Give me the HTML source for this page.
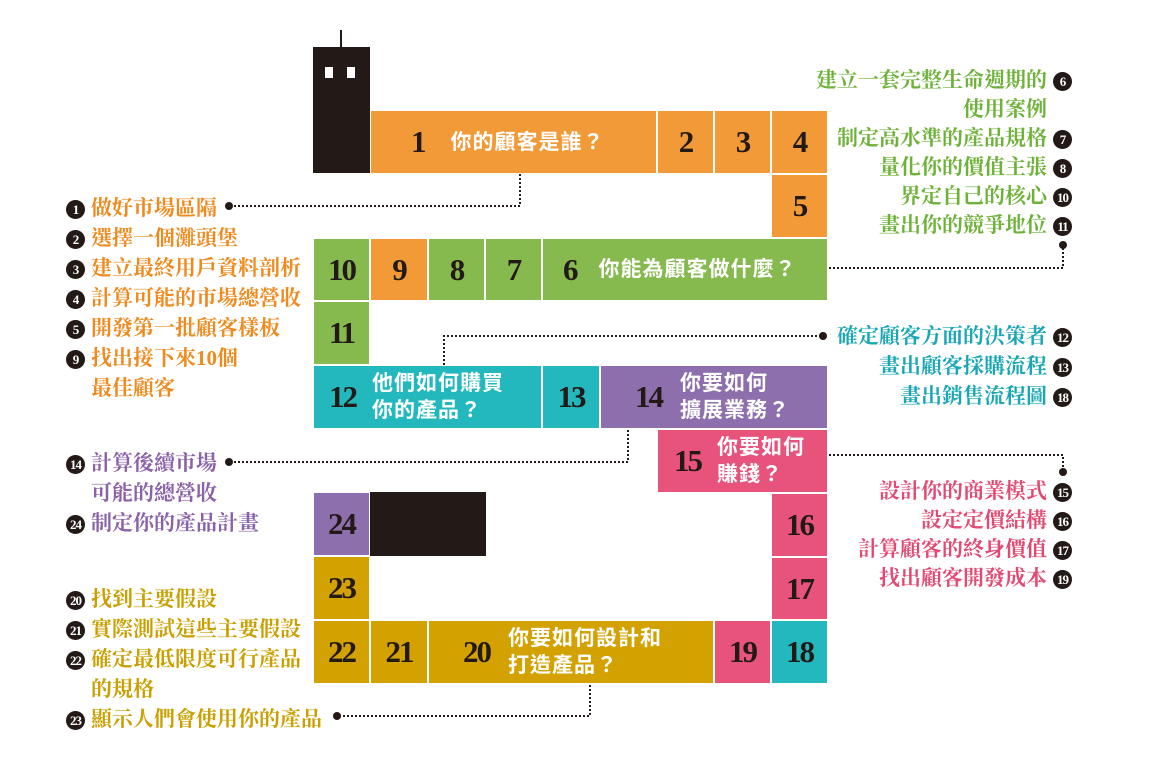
<!DOCTYPE html>
<html><head><meta charset="utf-8"><style>
*{margin:0;padding:0;box-sizing:border-box}
body{width:1152px;height:764px;background:#fff;position:relative;overflow:hidden}
.c{position:absolute;border:1px solid #fff;color:#231916;font-family:"Liberation Serif",serif;font-weight:bold;font-size:31px;display:flex;align-items:center;justify-content:center;letter-spacing:-2px}
.q{color:#fff;font-family:"Liberation Sans","Noto Sans CJK TC",sans-serif;font-weight:bold;font-size:21px;letter-spacing:1px;line-height:27px}
.o{background:#f29a38}.g{background:#86b94e}.t{background:#22b8bd}.p{background:#8e6fae}.k{background:#e7537a}.y{background:#d3a100}
.l{position:absolute;font-family:"Liberation Serif","Noto Serif CJK TC",serif;font-weight:bold;font-size:21px;line-height:24px;white-space:nowrap}
.n{display:inline-block;width:19px;height:19px;border-radius:50%;background:#231916;color:#fff;font-family:"Liberation Serif",serif;font-size:13px;line-height:19px;text-align:center;vertical-align:1px;letter-spacing:-1px}
.L .n{margin-right:6px}.R{text-align:right}.R .n{margin-left:6px}
.co{color:#ee8a1e}.cg{color:#6fb23a}.ct{color:#1aa7b5}.cp{color:#8a62a8}.ck{color:#e24a72}.cy{color:#c9a000}
</style></head><body>
<div style="position:absolute;left:313px;top:47px;width:57px;height:126px;background:#231916"></div>
<div style="position:absolute;left:340px;top:30px;width:2px;height:18px;background:#231916"></div>
<div style="position:absolute;left:325px;top:67px;width:8px;height:11px;background:#fff"></div>
<div style="position:absolute;left:347px;top:67px;width:8px;height:11px;background:#fff"></div>
<div style="position:absolute;left:370px;top:492px;width:116px;height:64px;background:#231916"></div>

<div class="c o" style="left:370px;top:110px;width:287px;height:64px;justify-content:flex-start;padding-left:40px">1<span class="q" style="margin-left:26px">你的顧客是誰？</span></div>
<div class="c o" style="left:657px;top:110px;width:57px;height:64px">2</div>
<div class="c o" style="left:714px;top:110px;width:57px;height:64px">3</div>
<div class="c o" style="left:771px;top:110px;width:57px;height:64px">4</div>
<div class="c o" style="left:771px;top:174px;width:57px;height:64px">5</div>
<div class="c g" style="left:313px;top:238px;width:57px;height:63px">10</div>
<div class="c o" style="left:370px;top:238px;width:58px;height:63px">9</div>
<div class="c g" style="left:428px;top:238px;width:57px;height:63px">8</div>
<div class="c g" style="left:485px;top:238px;width:57px;height:63px">7</div>
<div class="c g" style="left:542px;top:238px;width:286px;height:63px;justify-content:flex-start;padding-left:20px">6<span class="q" style="margin-left:22px">你能為顧客做什麼？</span></div>
<div class="c g" style="left:313px;top:301px;width:57px;height:64px">11</div>
<div class="c t" style="left:313px;top:365px;width:229px;height:64px;justify-content:flex-start;padding-left:15px">12<span class="q" style="margin-left:16px">他們如何購買<br>你的產品？</span></div>
<div class="c t" style="left:542px;top:365px;width:58px;height:64px">13</div>
<div class="c p" style="left:600px;top:365px;width:228px;height:64px;justify-content:flex-start;padding-left:34px">14<span class="q" style="margin-left:18px">你要如何<br>擴展業務？</span></div>
<div class="c k" style="left:657px;top:429px;width:171px;height:64px;justify-content:flex-start;padding-left:16px">15<span class="q" style="margin-left:16px">你要如何<br>賺錢？</span></div>
<div class="c k" style="left:771px;top:493px;width:57px;height:64px">16</div>
<div class="c k" style="left:771px;top:557px;width:57px;height:63px">17</div>
<div class="c p" style="left:313px;top:492px;width:57px;height:64px">24</div>
<div class="c y" style="left:313px;top:556px;width:57px;height:64px">23</div>
<div class="c y" style="left:313px;top:620px;width:57px;height:64px">22</div>
<div class="c y" style="left:370px;top:620px;width:58px;height:64px">21</div>
<div class="c y" style="left:428px;top:620px;width:286px;height:64px;justify-content:flex-start;padding-left:34px">20<span class="q" style="margin-left:18px">你要如何設計和<br>打造產品？</span></div>
<div class="c k" style="left:714px;top:620px;width:57px;height:64px">19</div>
<div class="c t" style="left:771px;top:620px;width:57px;height:64px">18</div>

<svg width="1152" height="764" style="position:absolute;left:0;top:0" fill="none">
<g stroke="#231916" stroke-width="2" stroke-dasharray="2 2">
<polyline points="520,174 520,206 232,206"/>
<polyline points="829,268 1063,268 1063,248"/>
<polyline points="444,365 444,336 820,336"/>
<polyline points="628,430 628,462 232,462"/>
<polyline points="829,455 1063,455 1063,470"/>
<polyline points="590,685 590,716 340,716"/>
</g>
<g fill="#231916"><circle cx="229" cy="206" r="4"/><circle cx="1063" cy="245" r="4"/><circle cx="823" cy="336" r="4"/><circle cx="229" cy="462" r="4"/><circle cx="1063" cy="472" r="4"/><circle cx="337" cy="716" r="4"/></g>
</svg>

<div class="l L co" style="left:66px;top:196px">
<div><span class="n">1</span>做好市場區隔</div>
<div style="margin-top:6px"><span class="n">2</span>選擇一個灘頭堡</div>
<div style="margin-top:6px"><span class="n">3</span>建立最終用戶資料剖析</div>
<div style="margin-top:6px"><span class="n">4</span>計算可能的市場總營收</div>
<div style="margin-top:6px"><span class="n">5</span>開發第一批顧客樣板</div>
<div style="margin-top:6px"><span class="n">9</span>找出接下來10個</div>
<div style="margin-top:6px;padding-left:25px">最佳顧客</div>
</div>
<div class="l L cp" style="left:66px;top:451px">
<div><span class="n">14</span>計算後續市場</div>
<div style="margin-top:6px;padding-left:25px">可能的總營收</div>
<div style="margin-top:6px"><span class="n">24</span>制定你的產品計畫</div>
</div>
<div class="l L cy" style="left:66px;top:587px">
<div><span class="n">20</span>找到主要假設</div>
<div style="margin-top:6px"><span class="n">21</span>實際測試這些主要假設</div>
<div style="margin-top:6px"><span class="n">22</span>確定最低限度可行產品</div>
<div style="margin-top:6px;padding-left:25px">的規格</div>
<div style="margin-top:6px"><span class="n">23</span>顯示人們會使用你的產品</div>
</div>
<div class="l R cg" style="right:80px;top:68px">
<div>建立一套完整生命週期的<span class="n">6</span></div>
<div style="margin-top:5px;padding-right:25px">使用案例</div>
<div style="margin-top:5px">制定高水準的產品規格<span class="n">7</span></div>
<div style="margin-top:5px">量化你的價值主張<span class="n">8</span></div>
<div style="margin-top:5px">界定自己的核心<span class="n">10</span></div>
<div style="margin-top:5px">畫出你的競爭地位<span class="n">11</span></div>
</div>
<div class="l R ct" style="right:80px;top:324px">
<div>確定顧客方面的決策者<span class="n">12</span></div>
<div style="margin-top:6px">畫出顧客採購流程<span class="n">13</span></div>
<div style="margin-top:6px">畫出銷售流程圖<span class="n">18</span></div>
</div>
<div class="l R ck" style="right:80px;top:479px">
<div>設計你的商業模式<span class="n">15</span></div>
<div style="margin-top:5px">設定定價結構<span class="n">16</span></div>
<div style="margin-top:5px">計算顧客的終身價值<span class="n">17</span></div>
<div style="margin-top:5px">找出顧客開發成本<span class="n">19</span></div>
</div>
</body></html>
